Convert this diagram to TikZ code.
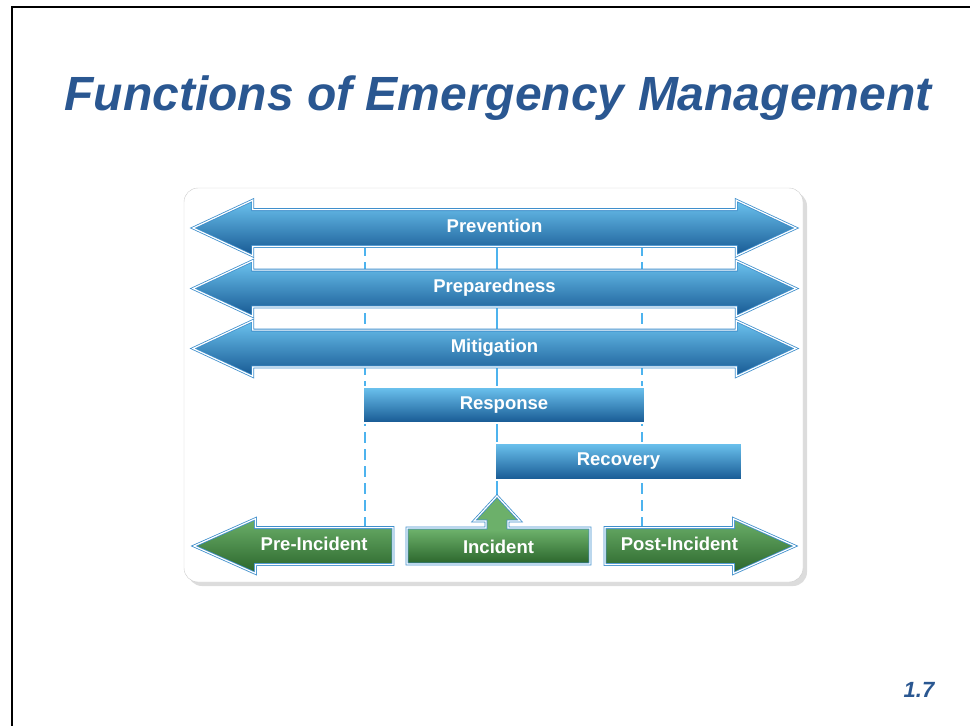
\documentclass[tikz,border=0pt]{standalone}
\usepackage{fontspec}
\setmainfont{Liberation Sans}
\usetikzlibrary{positioning, shapes.arrows, shadows, backgrounds}
\definecolor{titleblue}{HTML}{2A5791}
\definecolor{edgeblue}{HTML}{3F8FCC}
\definecolor{guideblue}{HTML}{4DB3EE}
\definecolor{skytop}{HTML}{6CC3EF}
\definecolor{skymid}{HTML}{2F88C9}
\definecolor{skybot}{HTML}{165892}
\definecolor{leaftop}{HTML}{6CB06A}
\definecolor{leafmid}{HTML}{3F8A40}
\definecolor{leafbot}{HTML}{2A652B}
\tikzset{
  outline/.style={draw=edgeblue, line width=0.8pt, double=white, double distance=1.2pt},
  phaseblue/.style={outline, top color=skytop, middle color=skymid, bottom color=skybot},
  phasegreen/.style={outline, top color=leaftop, middle color=leafmid, bottom color=leafbot},
  tag/.style={text=white, font=\fontsize{18.5}{21}\selectfont\bfseries},
  longarrow/.style={double arrow, phaseblue, tag, minimum height=603pt, minimum width=55pt,
    double arrow head extend=9.5pt, double arrow tip angle=50, text height=12pt, text depth=4pt,
    inner ysep=10pt, inner xsep=0pt},
  barbox/.style={rectangle, phaseblue, tag, text height=12pt, text depth=4pt, inner sep=0pt},
  timearrow/.style={single arrow, phasegreen, tag, minimum width=54pt, single arrow head extend=9pt,
    single arrow tip angle=48, text height=12pt, text depth=4pt, inner ysep=10pt, inner xsep=0pt},
  guide/.style={draw=guideblue, line width=2.6pt},
}

\begin{document}
\begin{tikzpicture}[x=1pt, y=-1pt]
  \useasboundingbox (0,0) rectangle (970,726);

  % frame and title
  \draw[line width=2.5pt] (12,726) -- (12,7) -- (970,7);
  \node[text=titleblue, font=\fontsize{48}{56}\selectfont\bfseries\itshape] (title) at (498,98)
    {Functions of Emergency Management};
  \node[text=titleblue, font=\fontsize{22}{26}\selectfont\bfseries\itshape] (slide) at (919,690) {1.7};

  % functions
  \node[longarrow] (prevention) at (494.5,228) {Prevention};
  \node[longarrow] (preparedness) at (494.5,288.5) {Preparedness};
  \node[longarrow] (mitigation) at (494.5,348.5) {Mitigation};
  \node[barbox, minimum width=282pt, minimum height=36pt] (response) at (504,405) {Response};
  \node[barbox, minimum width=247pt, minimum height=37pt] (recovery) at (618.5,461.5) {Recovery};

  % timeline
  \node[timearrow, shape border rotate=180, minimum height=199pt, anchor=tip] (preinc) at (193,546) {Pre-Incident};
  \node[timearrow, minimum height=190pt, anchor=tip] (postinc) at (796,546) {Post-Incident};
  \path[phasegreen, middle color=leaftop] (407,528) -- (486,528) -- (486,521) -- (474,521) -- (497,496)
    -- (520,521) -- (508,521) -- (508,528) -- (590,528) -- (590,564) -- (407,564) -- cycle;
  \node[tag] (incident) at (498.5,547) {Incident};

  % panel and guide lines
  \coordinate (tbefore) at (365,0);
  \coordinate (tduring) at (497,0);
  \coordinate (tafter) at (642,0);
  \begin{scope}[on background layer]
    \draw[draw=gray!40, fill=white, rounded corners=14pt,
      drop shadow={shadow xshift=4pt, shadow yshift=-4pt, fill=gray!55}]
      (184,188) rectangle (803,582);
    \draw[guide, dash pattern=on 11pt off 6pt] (prevention.center -| tbefore) -- (preinc.center -| tbefore);
    \draw[guide] (prevention.center -| tduring) -- (incident.center -| tduring);
    \draw[guide, dash pattern=on 11pt off 6pt] (prevention.center -| tafter) -- (postinc.center -| tafter);
  \end{scope}
\end{tikzpicture}
\end{document}
